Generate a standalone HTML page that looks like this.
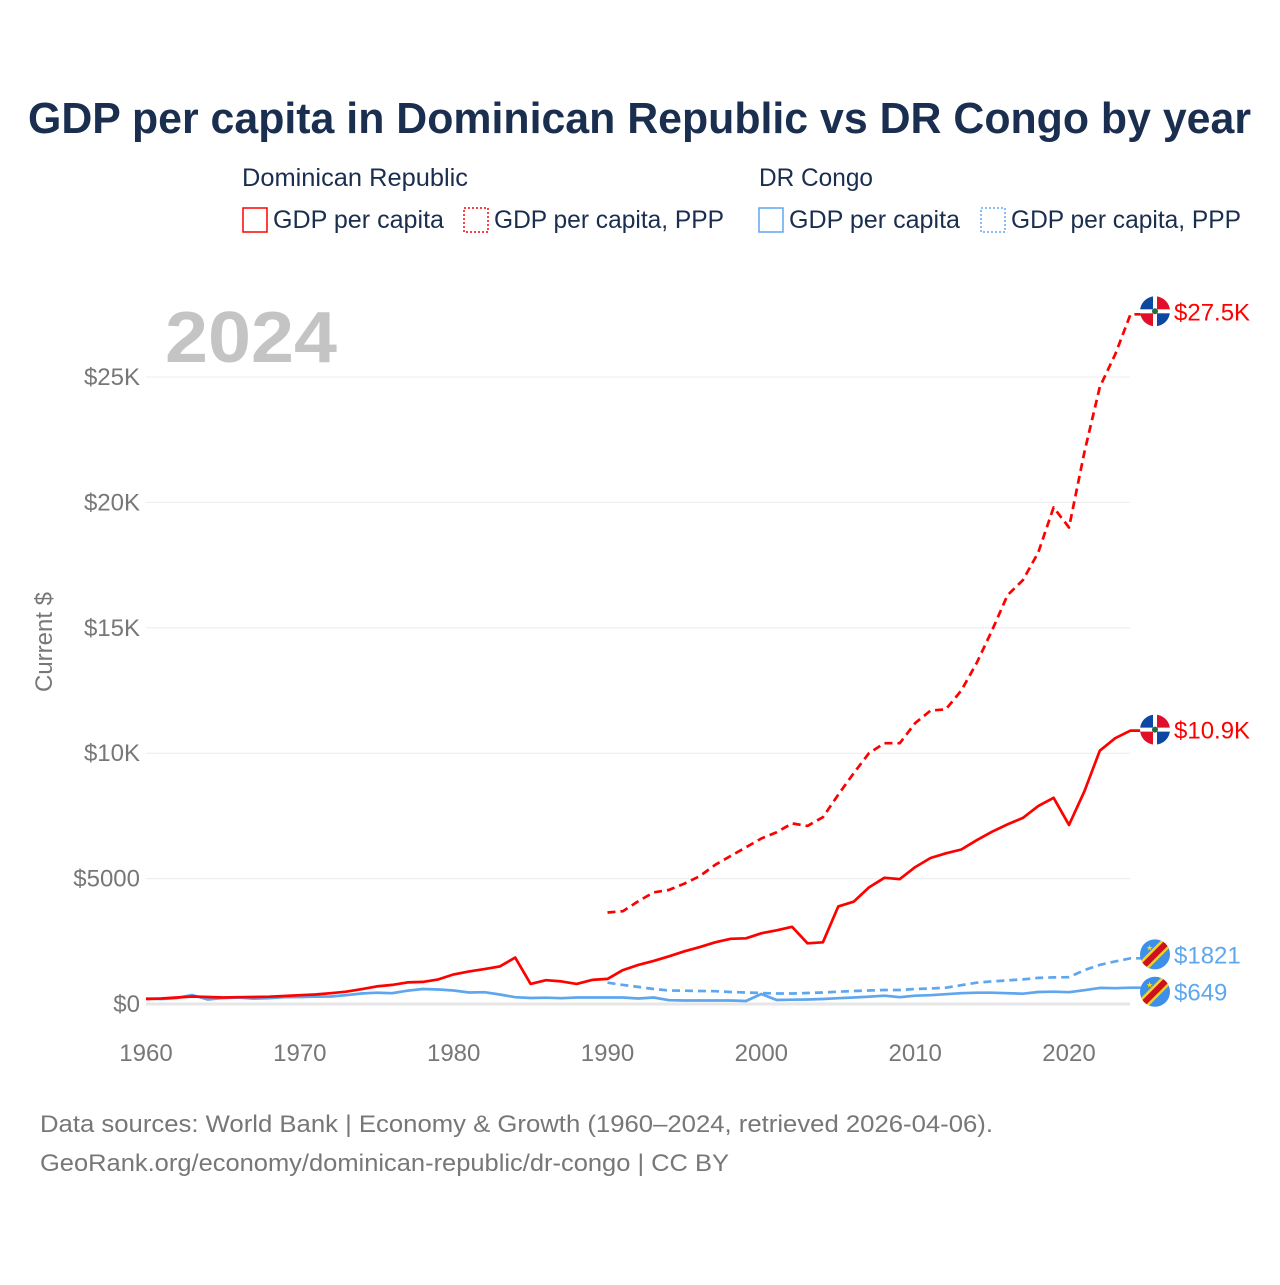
<!DOCTYPE html>
<html><head><meta charset="utf-8"><style>
body{margin:0;background:#fff;font-family:"Liberation Sans",sans-serif}
svg text{font-family:"Liberation Sans",sans-serif}
</style></head><body>
<svg width="1280" height="1280" xmlns="http://www.w3.org/2000/svg">
<defs>
<clipPath id="fc1"><circle cx="0" cy="0" r="15"/></clipPath>
</defs>
<text x="28" y="133" textLength="1223" lengthAdjust="spacingAndGlyphs" font-size="44" font-weight="bold" fill="#1a2e4f">GDP per capita in Dominican Republic vs DR Congo by year</text>
<g font-size="25" fill="#1a2e4f">
<text x="242" y="186" textLength="226" lengthAdjust="spacingAndGlyphs">Dominican Republic</text>
<text x="759" y="186" textLength="114" lengthAdjust="spacingAndGlyphs">DR Congo</text>
<g><rect x="243" y="208" width="24" height="24" fill="none" stroke="#ff0000" stroke-width="1.5"/><text x="273" y="228" textLength="171" lengthAdjust="spacingAndGlyphs">GDP per capita</text></g>
<g><rect x="464" y="208" width="24" height="24" fill="none" stroke="#ff0000" stroke-width="1.5" stroke-dasharray="2,2"/><text x="494" y="228" textLength="230" lengthAdjust="spacingAndGlyphs">GDP per capita, PPP</text></g>
<g><rect x="759" y="208" width="24" height="24" fill="none" stroke="#5ea7ef" stroke-width="1.5"/><text x="789" y="228" textLength="171" lengthAdjust="spacingAndGlyphs">GDP per capita</text></g>
<g><rect x="981" y="208" width="24" height="24" fill="none" stroke="#5ea7ef" stroke-width="1.5" stroke-dasharray="2,2"/><text x="1011" y="228" textLength="230" lengthAdjust="spacingAndGlyphs">GDP per capita, PPP</text></g>
</g>
<text x="165" y="362" textLength="172" lengthAdjust="spacingAndGlyphs" font-size="72" font-weight="bold" fill="#c4c4c4">2024</text>
<text transform="translate(52,642) rotate(-90)" text-anchor="middle" font-size="24" fill="#777">Current $</text>
<g id="grid"></g>
<g id="xt"></g>
<g id="lines"></g>
<g id="ends"></g>
<text x="40" y="1132" textLength="953" lengthAdjust="spacingAndGlyphs" font-size="24" fill="#777">Data sources: World Bank | Economy &amp; Growth (1960–2024, retrieved 2026-04-06).</text>
<text x="40" y="1171" textLength="689" lengthAdjust="spacingAndGlyphs" font-size="24" fill="#777">GeoRank.org/economy/dominican-republic/dr-congo | CC BY</text>
</svg>
<script>
const years=[];for(let y=1960;y<=2024;y++)years.push(y);
const ppYears=[];for(let y=1990;y<=2024;y++)ppYears.push(y);
const yTicks=[0,5000,10000,15000,20000,25000];
const yTickLabels=["$0","$5000","$10K","$15K","$20K","$25K"];
const xTicks=[1960,1970,1980,1990,2000,2010,2020];
const doGdp=[200,220,260,300,280,260,270,280,290,320,350,380,430,490,590,700,760,860,880,980,1180,1300,1390,1500,1850,800,950,900,800,960,1000,1350,1560,1720,1900,2100,2270,2460,2600,2620,2820,2940,3080,2420,2460,3890,4080,4650,5030,4980,5460,5820,6010,6160,6530,6870,7160,7420,7890,8220,7140,8480,10100,10600,10900];
const doPpp=[3650,3700,4100,4450,4550,4800,5100,5550,5900,6250,6600,6850,7200,7100,7450,8350,9200,10000,10400,10400,11200,11700,11750,12500,13600,14900,16300,16900,18000,19800,19000,22000,24600,25900,27500];
const cdGdp=[220,200,240,360,180,240,260,210,230,270,280,290,300,350,420,450,430,530,600,580,540,460,470,380,270,240,250,230,260,260,260,260,220,260,150,140,140,140,140,120,400,160,170,180,200,230,260,290,330,270,330,350,390,430,450,450,430,410,480,490,470,550,640,630,649];
const cdPpp=[850,760,680,600,540,530,520,510,480,460,440,420,420,440,460,490,520,540,560,560,600,620,650,750,850,900,940,980,1040,1060,1070,1350,1560,1700,1821];
const X=y=>146+(y-1960)*(1069-146)/60;
const Y=v=>1004-v*(1004-377)/25000;
const NS="http://www.w3.org/2000/svg";
function mk(tag,attrs,parent){const e=document.createElementNS(NS,tag);for(const k in attrs)e.setAttribute(k,attrs[k]);parent.appendChild(e);return e;}
const grid=document.getElementById('grid');
yTicks.forEach((t,i)=>{
 const l=mk('line',{x1:146,x2:1130,y1:Y(t),y2:Y(t),stroke:t===0?'#e6e6e6':'#ececec','stroke-width':t===0?3:1},grid);
 
 
 const tx=mk('text',{x:140,y:Y(t)+8,'text-anchor':'end','font-size':24,fill:'#777'},grid);
 tx.textContent=yTickLabels[i];
 
 
});
const xt=document.getElementById('xt');
xTicks.forEach(t=>{
 const tx=mk('text',{x:X(t),y:1061,'text-anchor':'middle','font-size':24,fill:'#777'},xt);
 tx.textContent=t;
 
 
});
const lines=document.getElementById('lines');
function line(xs,vs,color,dash,name){
 let d=vs.map((v,i)=>(i?'L':'M')+X(xs[i]).toFixed(1)+','+Y(v).toFixed(1)).join('');
 d+='L1142,'+Y(vs[vs.length-1]).toFixed(1);
 const p=mk('path',{d:d,fill:'none',stroke:color,'stroke-width':2.7,'stroke-linejoin':'round'},lines);
 if(dash)p.setAttribute('stroke-dasharray','8,5');
 
 
}
line(ppYears,cdPpp,'#5ea7ef',true,'line-dr-congo-ppp');
line(years,cdGdp,'#5ea7ef',false,'line-dr-congo-gdp');
line(ppYears,doPpp,'#ff0000',true,'line-dominican-republic-ppp');
line(years,doGdp,'#ff0000',false,'line-dominican-republic-gdp');
const ends=document.getElementById('ends');
function flagDO(g){
 mk('circle',{r:15,fill:'#fff'},g);
 mk('rect',{x:-15,y:-15,width:13,height:13,fill:'#0d47a1','clip-path':'url(#fc1)'},g);
 mk('rect',{x:2,y:-15,width:13,height:13,fill:'#e0102a','clip-path':'url(#fc1)'},g);
 mk('rect',{x:-15,y:2,width:13,height:13,fill:'#e0102a','clip-path':'url(#fc1)'},g);
 mk('rect',{x:2,y:2,width:13,height:13,fill:'#0d47a1','clip-path':'url(#fc1)'},g);
 mk('circle',{r:3,fill:'#2a6a3a'},g);
}
function flagCD(g){
 mk('circle',{r:15,fill:'#3d8fe8'},g);
 mk('line',{x1:-15,y1:15,x2:15,y2:-15,stroke:'#f7d618','stroke-width':11,'clip-path':'url(#fc1)'},g);
 mk('line',{x1:-15,y1:15,x2:15,y2:-15,stroke:'#ce1021','stroke-width':6,'clip-path':'url(#fc1)'},g);
 mk('text',{x:-9,y:-4,'font-size':8,fill:'#f7d618'},g).textContent='★';
}
function endLabel(v,color,label,flag,name,yo){
 const y=Y(v)+(yo||0);
 const g=mk('g',{transform:`translate(1155,${y})`},ends);
 
 
 flag(g);
 const t=mk('text',{x:1174,y:y+9,'font-size':24,fill:color},ends);
 t.textContent=label;
 
 
}
endLabel(doPpp[doPpp.length-1],'#ff0000','$27.5K',flagDO,'end-do-ppp',-3);
endLabel(doGdp[doGdp.length-1],'#ff0000','$10.9K',flagDO,'end-do-gdp',-1);
endLabel(cdPpp[cdPpp.length-1],'#5ea7ef','$1821',flagCD,'end-cd-ppp',-4);
endLabel(cdGdp[cdGdp.length-1],'#5ea7ef','$649',flagCD,'end-cd-gdp',4);
</script>
</body></html>
